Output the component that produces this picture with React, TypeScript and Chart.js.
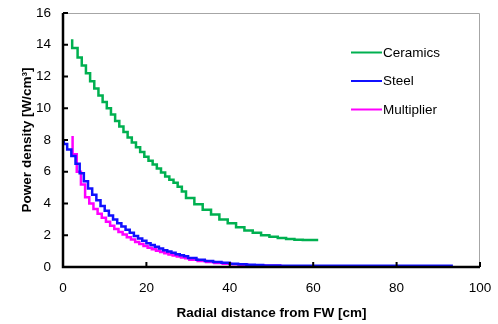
import React, { useEffect, useRef } from "react";
import { Chart, registerables } from "chart.js";

Chart.register(...registerables);

// Bin edges (cm) and power density values (W/cm3); last value repeated at the closing edge
const ceramicsX = [2.2, 3.5, 4.5, 5.5, 6.5, 7.5, 8.5, 9.5, 10.5, 11.5, 12.5, 13.5, 14.5, 15.5, 16.5, 17.5, 18.5, 19.5, 20.5, 21.5, 22.5, 23.5, 24.5, 25.5, 26.5, 27.5, 28.5, 29.5, 31.5, 33.5, 35.5, 37.5, 39.5, 41.5, 43.5, 45.5, 47.5, 49.5, 51.5, 53.5, 55.5, 57.5, 59.5, 61.2];
const ceramicsY = [14.35, 13.8, 13.2, 12.7, 12.2, 11.7, 11.25, 10.8, 10.4, 10.0, 9.6, 9.2, 8.85, 8.5, 8.15, 7.85, 7.55, 7.25, 6.95, 6.7, 6.45, 6.2, 5.95, 5.7, 5.5, 5.3, 5.05, 4.75, 4.35, 3.95, 3.6, 3.3, 3.0, 2.75, 2.5, 2.3, 2.15, 2.0, 1.9, 1.82, 1.76, 1.72, 1.7, 1.7];

const steelX = [0.2, 1, 2, 3, 4, 5, 6, 7, 8, 9, 10, 11, 12, 13, 14, 15, 16, 17, 18, 19, 20, 21, 22, 23, 24, 25, 26, 27, 28, 29, 30, 32, 34, 36, 38, 40, 42, 44, 46, 48, 50, 52, 60, 70, 80, 93.5];
const steelY = [8.05, 7.75, 7.4, 7.0, 6.5, 5.9, 5.4, 4.95, 4.55, 4.2, 3.85, 3.55, 3.25, 3.0, 2.75, 2.55, 2.35, 2.15, 1.95, 1.8, 1.65, 1.5, 1.38, 1.27, 1.16, 1.06, 0.97, 0.89, 0.81, 0.74, 0.68, 0.56, 0.46, 0.38, 0.31, 0.26, 0.21, 0.17, 0.14, 0.12, 0.1, 0.09, 0.08, 0.08, 0.08, 0.08];

const multiplierX = [2.3, 3.3, 4.3, 5.3, 6.3, 7.3, 8.3, 9.3, 10.3, 11.3, 12.3, 13.3, 14.3, 15.3, 16.3, 17.3, 18.3, 19.3, 20.3, 21.3, 22.3, 23.3, 24.3, 25.3, 26.3, 27.3, 28.3, 29.3, 30.3, 32.3, 34.3, 36.3, 38.3, 40.3, 42.3, 44.3, 46.3, 48.3, 50.3, 52.5];
const multiplierY = [8.25, 7.1, 6.0, 5.2, 4.4, 4.0, 3.65, 3.35, 3.1, 2.85, 2.6, 2.4, 2.2, 2.04, 1.88, 1.73, 1.58, 1.45, 1.33, 1.22, 1.12, 1.02, 0.94, 0.86, 0.78, 0.72, 0.66, 0.6, 0.55, 0.46, 0.38, 0.31, 0.25, 0.21, 0.17, 0.14, 0.11, 0.09, 0.08, 0.08];

const seriesNames = ["Ceramics", "Steel", "Multiplier"];
const seriesColors = ["#00b050", "#1010ff", "#ff00ff"];

const xTicks = [0, 20, 40, 60, 80, 100];
const yTicks = [0, 2, 4, 6, 8, 10, 12, 14, 16];

const FONT = "'Liberation Sans', Arial, sans-serif";

const frameAndLegend = {
  id: "frameAndLegend",
  afterDatasetsDraw(chart: any) {
    const { ctx, chartArea } = chart;
    const { left, right, top, bottom } = chartArea;
    const xs = chart.scales.x;
    const ys = chart.scales.y;
    ctx.save();
    // light frame top/right
    ctx.strokeStyle = "#a6a6a6";
    ctx.lineWidth = 1;
    ctx.beginPath();
    ctx.moveTo(left, top + 0.5);
    ctx.lineTo(right - 0.5, top + 0.5);
    ctx.lineTo(right - 0.5, bottom);
    ctx.stroke();
    // axes
    ctx.strokeStyle = "#000";
    ctx.lineWidth = 2.5;
    ctx.beginPath();
    ctx.moveTo(left, top);
    ctx.lineTo(left, bottom);
    ctx.lineTo(right, bottom);
    ctx.stroke();
    // inward ticks
    ctx.lineWidth = 2;
    ctx.beginPath();
    yTicks.forEach((v) => {
      const p = ys.getPixelForValue(v);
      ctx.moveTo(left, p);
      ctx.lineTo(left + 5, p);
    });
    xTicks.forEach((v) => {
      const p = xs.getPixelForValue(v);
      ctx.moveTo(p, bottom);
      ctx.lineTo(p, bottom - 5);
    });
    ctx.stroke();
    // legend
    ctx.font = `13.5px ${FONT}`;
    ctx.textBaseline = "middle";
    ctx.fillStyle = "#000";
    chart.data.datasets.forEach((ds: any, i: number) => {
      const y = top + 39.5 + i * 28.5;
      const x0 = left + 288;
      ctx.strokeStyle = ds.borderColor;
      ctx.lineWidth = 2;
      ctx.beginPath();
      ctx.moveTo(x0, y);
      ctx.lineTo(x0 + 31, y);
      ctx.stroke();
      ctx.fillText(ds.label, x0 + 32, y + 0.5);
    });
    ctx.restore();
  },
};

function toPoints(xs: number[], ys: number[]) {
  return xs.map((x, i) => ({ x, y: ys[i] }));
}

function zeroPad(s: any) {
  s.paddingTop = 0;
  s.paddingBottom = 0;
  s.paddingLeft = 0;
  s.paddingRight = 0;
}

export default function App() {
  const ref = useRef<HTMLCanvasElement | null>(null);
  useEffect(() => {
    if (!ref.current) return;
    const tickFont = { family: FONT, size: 13.5 };
    const titleFont = { family: FONT, size: 13.5, weight: "bold" as const };
    const chart = new Chart(ref.current, {
      type: "line",
      data: {
        datasets: [
          { label: seriesNames[0], data: toPoints(ceramicsX, ceramicsY), borderColor: seriesColors[0], backgroundColor: seriesColors[0] },
          { label: seriesNames[1], data: toPoints(steelX, steelY), borderColor: seriesColors[1], backgroundColor: seriesColors[1] },
          { label: seriesNames[2], data: toPoints(multiplierX, multiplierY), borderColor: seriesColors[2], backgroundColor: seriesColors[2] },
        ],
      },
      options: {
        animation: false,
        responsive: false,
        layout: { padding: { top: 13, right: 18, left: 0, bottom: 0 } },
        plugins: { legend: { display: false }, tooltip: { enabled: false } },
        elements: {
          point: { radius: 0 },
          line: { borderWidth: 2.5, stepped: "after", tension: 0, fill: false },
        },
        scales: {
          x: {
            type: "linear",
            min: 0,
            max: 100,
            afterBuildTicks: (s: any) => { s.ticks = xTicks.map((v) => ({ value: v })); },
            afterFit: (s: any) => { s.height = 57; zeroPad(s); },
            ticks: { font: tickFont, color: "#000", padding: 13 },
            grid: { drawOnChartArea: false, drawTicks: false },
            border: { display: false },
            title: { display: true, text: "Radial distance from FW [cm]", font: titleFont, color: "#000", padding: 3 },
          },
          y: {
            type: "linear",
            min: 0,
            max: 16,
            afterBuildTicks: (s: any) => { s.ticks = yTicks.map((v) => ({ value: v })); },
            afterFit: (s: any) => { s.width = 63; zeroPad(s); },
            ticks: { font: tickFont, color: "#000", padding: 12 },
            grid: { drawOnChartArea: false, drawTicks: false },
            border: { display: false },
            title: { display: true, text: "Power density [W/cm³]", font: titleFont, color: "#000", padding: 19 },
          },
        },
      },
      plugins: [frameAndLegend],
    } as any);
    return () => chart.destroy();
  }, []);
  return (
    <div style={{ position: "absolute", left: 0, top: 0, width: 498, height: 324, background: "#fff" }}>
      <canvas ref={ref} width={498} height={324} style={{ display: "block" }} />
    </div>
  );
}
